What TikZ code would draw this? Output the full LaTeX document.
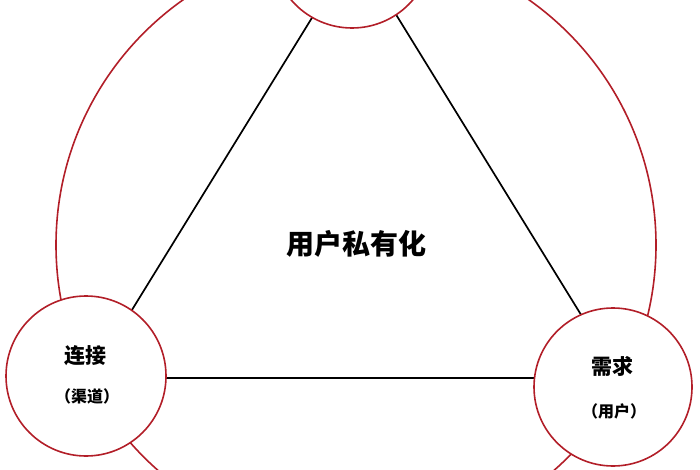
\documentclass[tikz,border=0pt]{standalone}
\usepackage{fontspec}
\newfontfamily\cjk{Noto Sans CJK SC}
\definecolor{ringred}{RGB}{178,30,40}
\begin{document}
\begin{tikzpicture}[x=1pt,y=-1pt,
  ring/.style={draw=ringred,line width=1.6pt},
  edge/.style={draw=black,line width=1.7pt},
  bubble/.style={circle,draw=ringred,line width=1.6pt,fill=white,minimum size=160pt,inner sep=0pt},
  big/.style={font=\cjk\bfseries\fontsize{28}{32}\selectfont},
  mainlbl/.style={font=\cjk\bfseries\fontsize{21}{24}\selectfont},
  sublbl/.style={font=\cjk\bfseries\fontsize{16}{19}\selectfont}]
\useasboundingbox (0,0) rectangle (700,470);
\path[clip] (0,0) rectangle (700,470);
% outer ring
\node[circle,ring,minimum size=600pt,inner sep=0pt] (ringc) at (356,245) {};
% triangle vertices
\coordinate (vt) at (355,-52);
\coordinate (vl) at (90,378);
\coordinate (vr) at (620,378);
\draw[edge] (vt) -- (vl);
\draw[edge] (vt) -- (vr);
\draw[edge] (vl) -- (vr);
% small circles
\node[bubble] (top) at (352,-52) {};
\node[bubble] (left) at (86,376) {};
\node[bubble,minimum size=158pt] (right) at (613,387) {};
% labels
\node[big] (center) at (356,244) {用户私有化};
\node[mainlbl] (l1) at (85,356) {连接};
\node[sublbl] (l2) at (87,396) {（渠道）};
\node[mainlbl] (r1) at (612,366) {需求};
\node[sublbl] (r2) at (614,411) {（用户）};
\end{tikzpicture}
\end{document}
